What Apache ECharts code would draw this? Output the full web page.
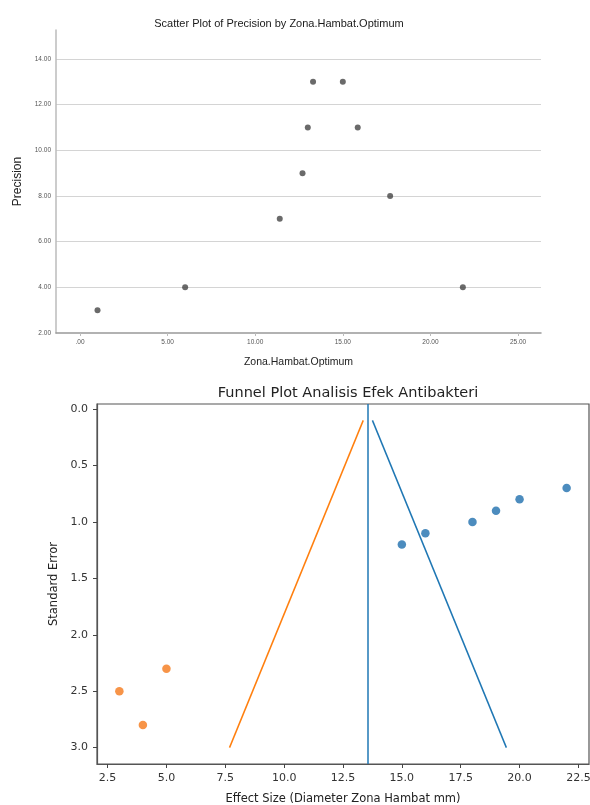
<!DOCTYPE html>
<html>
<head>
<meta charset="utf-8">
<script src="https://cdn.jsdelivr.net/npm/echarts@6/dist/echarts.min.js"></script>
<style>html,body{margin:0;padding:0;background:#fff;overflow:hidden;}#c{width:590px;height:805px;}</style>
</head>
<body>
<div id="c"></div>
<script>
// ---- Top chart (SPSS scatter) ----
const zonaHambat = [1.0, 6.0, 11.4, 12.7, 13.0, 13.3, 15.0, 15.85, 17.7, 21.85];
const precision  = [3, 4, 7, 9, 11, 13, 13, 11, 8, 4];
const topXTicks = [0, 5, 10, 15, 20, 25];
const topXTickLabels = ['.00', '5.00', '10.00', '15.00', '20.00', '25.00'];
const topYTicks = [2, 4, 6, 8, 10, 12, 14];
const topYTickLabels = ['2.00', '4.00', '6.00', '8.00', '10.00', '12.00', '14.00'];

// ---- Bottom chart (funnel plot) ----
const effectHigh = [15, 16, 18, 19, 20, 22];
const seHigh     = [1.2, 1.1, 1.0, 0.9, 0.8, 0.7];
const effectLow  = [3, 4, 5];
const seLow      = [2.5, 2.8, 2.3];
const meanEffect = 13.56;
const funnelSE   = [0.1, 3.0];
const lowerBound = [13.36, 7.68];
const upperBound = [13.75, 19.44];
const botXTicks = [2.5, 5.0, 7.5, 10.0, 12.5, 15.0, 17.5, 20.0, 22.5];
const botYTicks = [0.0, 0.5, 1.0, 1.5, 2.0, 2.5, 3.0];

const chart = echarts.init(document.getElementById('c'), null, {renderer: 'canvas'});

const topFont = 'Liberation Sans, Arial, sans-serif';
const botFont = 'DejaVu Sans, sans-serif';

function pairs(xs, ys) { return xs.map((x, i) => [x, ys[i]]); }

const option = {
  animation: false,
  backgroundColor: '#fff',
  title: [
    {text: 'Scatter Plot of Precision by Zona.Hambat.Optimum', left: 274, top: 13, textAlign: 'center',
     textStyle: {fontFamily: topFont, fontSize: 11, fontWeight: 'normal', color: '#1a1a1a'}},
    {text: 'Funnel Plot Analisis Efek Antibakteri', left: 343, top: 381, textAlign: 'center',
     textStyle: {fontFamily: botFont, fontSize: 14.5, fontWeight: 'normal', color: '#222'}}
  ],
  grid: [
    {left: 56, right: 49, top: 30, bottom: 472, show: false, containLabel: false, outerBoundsMode: 'none'},
    {left: 97, right: 1, top: 404, bottom: 41, show: true, borderColor: '#555', borderWidth: 1.2,
     backgroundColor: 'transparent', containLabel: false, outerBoundsMode: 'none'}
  ],
  xAxis: [
    {gridIndex: 0, type: 'value', min: -1.37, max: 26.31,
     name: 'Zona.Hambat.Optimum', nameLocation: 'middle', nameGap: 24,
     nameTextStyle: {fontFamily: topFont, fontSize: 10.5, color: '#222'},
     axisLine: {show: true, onZero: false, lineStyle: {color: '#999', width: 1.5}},
     axisTick: {show: true, length: 3, customValues: topXTicks, lineStyle: {color: '#bbb'}},
     axisLabel: {customValues: topXTicks, fontFamily: topFont, fontSize: 6.5, color: '#555', margin: 6,
       formatter: v => topXTickLabels[topXTicks.indexOf(v)]},
     splitLine: {show: false}},
    {gridIndex: 1, type: 'value', min: 2.05, max: 22.95,
     name: 'Effect Size (Diameter Zona Hambat mm)', nameLocation: 'middle', nameGap: 29,
     nameTextStyle: {fontFamily: botFont, fontSize: 11.5, color: '#222'},
     axisLine: {show: true, onZero: false, lineStyle: {color: '#555', width: 1.2}},
     axisTick: {show: true, length: 4, inside: false, customValues: botXTicks, lineStyle: {color: '#444'}},
     axisLabel: {customValues: botXTicks, fontFamily: botFont, fontSize: 11, color: '#333', margin: 9,
       formatter: v => v.toFixed(1)},
     splitLine: {show: false}}
  ],
  yAxis: [
    {gridIndex: 0, type: 'value', min: 2, max: 15.27, interval: 2,
     name: 'Precision', nameLocation: 'middle', nameGap: 28, nameRotate: 90,
     nameTextStyle: {fontFamily: topFont, fontSize: 12, color: '#222'},
     axisLine: {show: true, onZero: false, lineStyle: {color: '#bbb', width: 1.5}},
     axisTick: {show: false},
     axisLabel: {customValues: topYTicks, fontFamily: topFont, fontSize: 6.5, color: '#555', margin: 5,
       formatter: v => topYTickLabels[topYTicks.indexOf(v)]},
     splitLine: {show: true, showMaxLine: false, showMinLine: false, lineStyle: {color: '#d4d4d4', width: 1.2}}},
    {gridIndex: 1, type: 'value', min: -0.045, max: 3.145, inverse: true,
     name: 'Standard Error', nameLocation: 'middle', nameGap: 37, nameRotate: 90,
     nameTextStyle: {fontFamily: botFont, fontSize: 11.5, color: '#222'},
     axisLine: {show: true, onZero: false, lineStyle: {color: '#555', width: 1.2}},
     axisTick: {show: true, length: 4, inside: false, customValues: botYTicks, lineStyle: {color: '#444'}},
     axisLabel: {customValues: botYTicks, fontFamily: botFont, fontSize: 11, color: '#333', margin: 9,
       formatter: v => v.toFixed(1)},
     splitLine: {show: false}}
  ],
  series: [
    {type: 'scatter', xAxisIndex: 0, yAxisIndex: 0, data: pairs(zonaHambat, precision),
     symbolSize: 6, itemStyle: {color: '#454545'}},
    {type: 'scatter', xAxisIndex: 1, yAxisIndex: 1, data: pairs(effectHigh, seHigh),
     symbolSize: 8.5, itemStyle: {color: '#1f6fae'}, z: 5},
    {type: 'scatter', xAxisIndex: 1, yAxisIndex: 1, data: pairs(effectLow, seLow),
     symbolSize: 8.5, itemStyle: {color: '#f5791a'}, z: 5},
    {type: 'line', xAxisIndex: 1, yAxisIndex: 1, data: pairs(lowerBound, funnelSE),
     showSymbol: false, symbol: 'none', lineStyle: {color: '#ff7f0e', width: 1.5}},
    {type: 'line', xAxisIndex: 1, yAxisIndex: 1, data: pairs(upperBound, funnelSE),
     showSymbol: false, symbol: 'none', lineStyle: {color: '#1f77b4', width: 1.5},
     markLine: {silent: true, symbol: 'none', label: {show: false},
       lineStyle: {color: '#1f77b4', width: 1.5, type: 'solid'},
       data: [{xAxis: meanEffect}]}}
  ]
};
chart.setOption(option);
</script>
</body>
</html>
